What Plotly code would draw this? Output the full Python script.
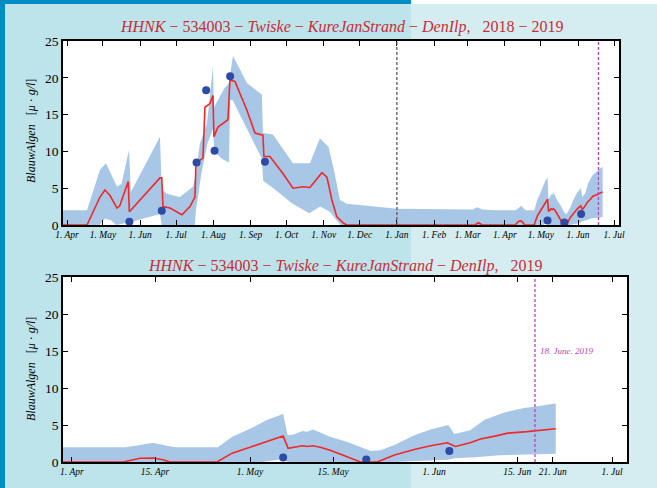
import plotly.graph_objects as go

# ---------------- data ----------------
# 2018 season (top panel, up to March 2019)
up18_x = ["2018-03-20", "2018-04-17 16:00", "2018-04-28 12:00", "2018-05-03 12:00", "2018-05-12 16:00",
          "2018-05-16 12:00", "2018-05-22 16:00", "2018-05-24 06:00", "2018-06-17 12:00", "2018-06-19",
          "2018-06-24", "2018-07-04", "2018-07-15", "2018-07-17", "2018-07-20 18:00", "2018-07-26 16:00",
          "2018-07-31 16:00", "2018-08-01 12:00", "2018-08-10", "2018-08-14", "2018-08-17 08:00",
          "2018-08-29", "2018-09-10 12:00", "2018-09-11 08:00", "2018-09-19 16:00", "2018-10-06 08:00",
          "2018-10-20 12:00", "2018-10-28 20:00", "2018-11-05", "2018-11-09 12:00", "2018-11-14 12:00",
          "2018-11-20 08:00", "2019-01-01", "2019-03-05", "2019-03-09", "2019-03-13", "2019-03-24"]
up18_y = [2.0, 2.0, 7.5, 8.4, 5.2, 5.6, 10.2, 4.5, 12.0, 4.8, 4.2, 3.8, 5.2, 6.5, 11.0, 13.8, 21.5, 16.0,
          18.5, 19.3, 23.0, 19.3, 17.7, 12.5, 12.3, 8.4, 8.4, 11.8, 10.6, 7.5, 3.4, 2.9, 2.2, 2.1, 2.4,
          2.1, 2.0]

lo18_x = ["2018-03-20", "2018-04-28", "2018-05-02 16:00", "2018-05-08", "2018-05-12", "2018-05-24 06:00",
          "2018-06-05", "2018-06-17 12:00", "2018-06-19", "2018-07-16 12:00", "2018-07-17 12:00",
          "2018-07-22", "2018-07-27", "2018-07-31 12:00", "2018-08-02", "2018-08-08", "2018-08-14",
          "2018-08-15", "2018-08-17", "2018-08-29", "2018-09-10 12:00", "2018-09-11 12:00", "2018-09-20",
          "2018-10-06", "2018-10-20", "2018-10-29", "2018-11-06", "2018-11-15", "2019-03-24"]
lo18_y = [0, 0, 0.9, 0.6, 0, 0.4, 0.9, 1.5, 0, 0, 2.0, 7.0, 11.0, 13.0, 10.0, 9.0, 8.5, 17.0, 17.0,
          13.0, 9.0, 6.0, 5.0, 2.9, 1.6, 2.5, 1.8, 0, 0]

red18_x = ["2018-03-20", "2018-04-17 16:00", "2018-04-28 12:00", "2018-05-02 16:00", "2018-05-06 20:00",
           "2018-05-12 16:00", "2018-05-15", "2018-05-22", "2018-05-23", "2018-06-01", "2018-06-09",
           "2018-06-17 12:00", "2018-06-19", "2018-06-20", "2018-06-25 20:00", "2018-07-05 20:00",
           "2018-07-12 12:00", "2018-07-16 16:00", "2018-07-17 12:00", "2018-07-23 08:00", "2018-07-25",
           "2018-07-29 04:00", "2018-07-31 16:00", "2018-08-01 12:00", "2018-08-04 20:00",
           "2018-08-13 04:00", "2018-08-14 20:00", "2018-08-19", "2018-08-29", "2018-09-04 16:00",
           "2018-09-11 08:00", "2018-09-12 04:00", "2018-09-17 04:00", "2018-09-28", "2018-10-06 08:00",
           "2018-10-14 16:00", "2018-10-20 12:00", "2018-10-30 12:00", "2018-11-03 16:00",
           "2018-11-07 20:00", "2018-11-12", "2018-11-17 20:00", "2018-11-20 08:00", "2019-03-07",
           "2019-03-10", "2019-03-13", "2019-03-24"]
red18_y = [0, 0, 3.8, 4.75, 4.0, 2.3, 2.6, 5.9, 1.8, 3.4, 4.9, 6.4, 6.4, 2.5, 2.3, 1.4, 2.5, 3.8, 8.4,
           9.1, 16.0, 16.5, 17.6, 12.0, 13.3, 14.3, 19.7, 19.5, 15.6, 12.5, 12.2, 9.3, 9.3, 7.0, 5.0, 5.2,
           5.1, 7.1, 6.5, 3.4, 1.1, 0.2, 0, 0, 0.3, 0, 0]

obs18_x = ["2018-05-23", "2018-06-19", "2018-07-18", "2018-07-26", "2018-08-02", "2018-08-15", "2018-09-13"]
obs18_y = [0.45, 1.95, 8.5, 18.3, 10.1, 20.2, 8.6]

# 2019 season (both panels)
up19_x = ["2019-03-25", "2019-04-10", "2019-04-12 12:00", "2019-04-14 16:00", "2019-04-17",
          "2019-04-18 10:00", "2019-04-25 14:00", "2019-04-28", "2019-05-01", "2019-05-03 22:00",
          "2019-05-06 14:00", "2019-05-07 08:00", "2019-05-08 08:00", "2019-05-09 20:00",
          "2019-05-10 14:00", "2019-05-11 14:00", "2019-05-12 20:00", "2019-05-14 12:00",
          "2019-05-17 10:00", "2019-05-21 08:00", "2019-05-23", "2019-05-25 08:00", "2019-05-28 16:00",
          "2019-05-31 10:00", "2019-06-03 10:00", "2019-06-04 10:00", "2019-06-07 02:00",
          "2019-06-09 12:00", "2019-06-12 20:00", "2019-06-16 04:00", "2019-06-18 02:00",
          "2019-06-21 12:00"]
up19_y = [2.0, 2.0, 2.3, 2.6, 2.2, 2.0, 2.0, 3.4, 4.5, 5.7, 6.5, 3.6, 3.7, 4.2, 4.1, 4.4, 4.0, 3.4, 2.7,
          1.5, 1.6, 2.3, 3.6, 4.4, 5.0, 3.8, 4.3, 5.7, 6.7, 7.3, 7.5, 7.9]

lo19_x = ["2019-03-25", "2019-05-03", "2019-05-06 14:00", "2019-05-07 08:00", "2019-05-25", "2019-05-31",
          "2019-06-03 10:00", "2019-06-04 10:00", "2019-06-08", "2019-06-12", "2019-06-16",
          "2019-06-21 12:00"]
lo19_y = [0, 0, 0.4, 0, 0, 0.2, 0.3, 0.5, 0.65, 0.9, 1.0, 1.1]

red19_x = ["2019-03-25", "2019-04-09 14:00", "2019-04-12 12:00", "2019-04-14 16:00", "2019-04-16 08:00",
           "2019-04-17 12:00", "2019-04-25 10:00", "2019-04-28", "2019-05-01", "2019-05-03 22:00",
           "2019-05-06 14:00", "2019-05-07 10:00", "2019-05-08 14:00", "2019-05-09 20:00",
           "2019-05-10 14:00", "2019-05-11 14:00", "2019-05-12 20:00", "2019-05-14 12:00",
           "2019-05-16 22:00", "2019-05-19 14:00", "2019-05-22 10:00", "2019-05-25 08:00",
           "2019-05-28 16:00", "2019-05-31 10:00", "2019-06-03 06:00", "2019-06-04 14:00",
           "2019-06-07 02:00", "2019-06-08 20:00", "2019-06-11 06:00", "2019-06-13 10:00",
           "2019-06-16 16:00", "2019-06-21 12:00"]
red19_y = [0, 0, 0.5, 0.55, 0.3, 0, 0, 1.2, 2.0, 2.8, 3.5, 1.85, 2.0, 2.2, 2.1, 2.2, 2.0, 1.6, 0.85, 0, 0,
           0.95, 1.7, 2.2, 2.6, 2.1, 2.6, 3.1, 3.5, 3.9, 4.1, 4.5]

obs19_x = ["2019-05-06 14:00", "2019-05-20 14:00", "2019-06-03 14:00"]
obs19_y = [0.6, 0.35, 1.5]

# ticks
top_tickvals = ["2018-04-01", "2018-05-01", "2018-06-01", "2018-07-01", "2018-08-01", "2018-09-01",
                "2018-10-01", "2018-11-01", "2018-12-01", "2019-01-01", "2019-02-01", "2019-03-01",
                "2019-04-01", "2019-05-01", "2019-06-01", "2019-07-01"]
top_ticktext = ["1. Apr", "1. May", "1. Jun", "1. Jul", "1. Aug", "1. Sep", "1. Oct", "1. Nov", "1. Dec",
                "1. Jan", "1. Feb", "1. Mar", "1. Apr", "1. May", "1. Jun", "1. Jul"]
bot_tickvals = ["2019-04-01", "2019-04-15", "2019-05-01", "2019-05-15", "2019-06-01", "2019-06-15",
                "2019-06-21", "2019-07-01"]
bot_ticktext = ["1. Apr", "15. Apr", "1. May", "15. May", "1. Jun", "15. Jun", "21. Jun", "1. Jul"]
y_ticks = [0, 5, 10, 15, 20, 25]

year_line = "2019-01-01"
today_line = "2019-06-18"
today_label = "18. June. 2019"
title_top = "<i>HHNK</i> − 534003 − <i>Twiske</i> − <i>KureJanStrand</i> − <i>DenIlp</i>,   2018 − 2019"
title_bot = "<i>HHNK</i> − 534003 − <i>Twiske</i> − <i>KureJanStrand</i> − <i>DenIlp</i>,   2019"
ylabel = "<i>BlauwAlgen</i>   [<i>μ</i> · <i>g/l</i>]"

# ---------------- styling ----------------
W, H = 657, 488
BAND = "rgb(168,199,230)"
RED = "rgb(240,40,40)"
DOT = "rgb(45,75,165)"
PURPLE = "rgb(185,70,185)"
TITLE_C = "rgb(200,45,55)"
FONT = "Liberation Serif"


def px(x):
    return x / W


def py(y):
    return 1 - y / H


top_dom_x = [px(63), px(619)]
top_dom_y = [py(225), py(41)]
bot_dom_x = [px(63), px(627)]
bot_dom_y = [py(462), py(277)]

fig = go.Figure()


def add_panel(xa, ya, up_x, up_y, lo_x, lo_y, r_x, r_y, o_x, o_y):
    fig.add_trace(go.Scatter(x=up_x + lo_x[::-1], y=up_y + lo_y[::-1], fill="toself",
                             fillcolor=BAND, line=dict(width=0), mode="lines",
                             hoverinfo="skip", showlegend=False, xaxis=xa, yaxis=ya))
    fig.add_trace(go.Scatter(x=r_x, y=r_y, mode="lines", line=dict(color=RED, width=1.6),
                             showlegend=False, xaxis=xa, yaxis=ya))
    fig.add_trace(go.Scatter(x=o_x, y=o_y, mode="markers", marker=dict(color=DOT, size=8),
                             showlegend=False, xaxis=xa, yaxis=ya))


add_panel("x", "y", up18_x + up19_x, up18_y + up19_y, lo18_x + lo19_x, lo18_y + lo19_y,
          red18_x + red19_x, red18_y + red19_y, obs18_x + obs19_x, obs18_y + obs19_y)
add_panel("x2", "y2", up19_x, up19_y, lo19_x, lo19_y, red19_x, red19_y, obs19_x, obs19_y)

axis_common = dict(showline=True, linecolor="black", linewidth=1.5, mirror="ticks", ticks="inside",
                   ticklen=5, tickwidth=1, tickcolor="black", showgrid=False, zeroline=False,
                   automargin=False)
xfont = dict(family=FONT, size=9.5, color="black", style="italic")
yfont = dict(family=FONT, size=13.5, color="black")

shapes = [
    # backgrounds
    dict(type="rect", xref="paper", yref="paper", x0=px(5), x1=px(411), y0=0, y1=py(4),
         fillcolor="rgb(189,228,235)", line=dict(width=0), layer="below"),
    dict(type="rect", xref="paper", yref="paper", x0=px(411), x1=1, y0=py(4), y1=1,
         fillcolor="white", line=dict(width=0), layer="below"),
    dict(type="rect", xref="paper", yref="paper", x0=0, x1=px(411), y0=py(4), y1=1,
         fillcolor="rgb(0,141,196)", line=dict(width=0), layer="below"),
    dict(type="rect", xref="paper", yref="paper", x0=0, x1=px(5), y0=0, y1=1,
         fillcolor="rgb(0,141,196)", line=dict(width=0), layer="below"),
    # plot areas
    dict(type="rect", xref="paper", yref="paper", x0=top_dom_x[0], x1=top_dom_x[1], y0=top_dom_y[0],
         y1=top_dom_y[1], fillcolor="white", line=dict(width=0), layer="below"),
    dict(type="rect", xref="paper", yref="paper", x0=bot_dom_x[0], x1=bot_dom_x[1], y0=bot_dom_y[0],
         y1=bot_dom_y[1], fillcolor="white", line=dict(width=0), layer="below"),
    # vertical markers
    dict(type="line", xref="x", yref="y domain", x0=year_line, x1=year_line, y0=0, y1=1,
         line=dict(color="rgb(90,90,90)", width=1.3, dash="3px,2px")),
    dict(type="line", xref="x", yref="y domain", x0=today_line, x1=today_line, y0=0, y1=1,
         line=dict(color=PURPLE, width=1.3, dash="3px,2px")),
    dict(type="line", xref="x2", yref="y2 domain", x0=today_line, x1=today_line, y0=0, y1=1,
         line=dict(color=PURPLE, width=1.3, dash="3px,2px")),
]

annotations = [
    dict(text=title_top, xref="paper", yref="paper", x=(top_dom_x[0] + top_dom_x[1]) / 2, y=py(27),
         showarrow=False, font=dict(family=FONT, size=16, color=TITLE_C), xanchor="center", yanchor="middle"),
    dict(text=title_bot, xref="paper", yref="paper", x=(bot_dom_x[0] + bot_dom_x[1]) / 2, y=py(266),
         showarrow=False, font=dict(family=FONT, size=16, color=TITLE_C), xanchor="center", yanchor="middle"),
    dict(text=ylabel, xref="paper", yref="paper", x=px(31), y=py(131), textangle=-90, showarrow=False,
         font=dict(family=FONT, size=12, color="black"), xanchor="center", yanchor="middle"),
    dict(text=ylabel, xref="paper", yref="paper", x=px(31), y=py(369), textangle=-90, showarrow=False,
         font=dict(family=FONT, size=12, color="black"), xanchor="center", yanchor="middle"),
    dict(text=today_label, xref="x2", yref="y2", x=today_line, y=15, xshift=3, showarrow=False,
         font=dict(family=FONT, size=9, color=PURPLE, style="italic"), xanchor="left", yanchor="middle"),
]

fig.update_layout(
    width=W, height=H, margin=dict(l=0, r=0, t=0, b=0, pad=0, autoexpand=False),
    paper_bgcolor="rgb(213,237,240)", plot_bgcolor="rgba(0,0,0,0)",
    showlegend=False, shapes=shapes, annotations=annotations,
    xaxis=dict(domain=top_dom_x, anchor="y", type="date",
               range=["2018-03-28 16:00", "2019-07-05 04:00"],
               tickmode="array", tickvals=top_tickvals, ticktext=top_ticktext, tickfont=xfont, **axis_common),
    yaxis=dict(domain=top_dom_y, anchor="x", range=[0, 25], tickmode="array", tickvals=y_ticks,
               tickfont=yfont, **axis_common),
    xaxis2=dict(domain=bot_dom_x, anchor="y2", type="date",
                range=["2019-03-30 12:00", "2019-07-03 12:00"],
                tickmode="array", tickvals=bot_tickvals, ticktext=bot_ticktext, tickfont=xfont, **axis_common),
    yaxis2=dict(domain=bot_dom_y, anchor="x2", range=[0, 25], tickmode="array", tickvals=y_ticks,
                tickfont=yfont, **axis_common),
)

fig.write_html(
    "out.html",
    config={"displayModeBar": False},
    post_script="document.body.style.margin='0';document.body.style.background='rgb(213,237,240)';",
)
